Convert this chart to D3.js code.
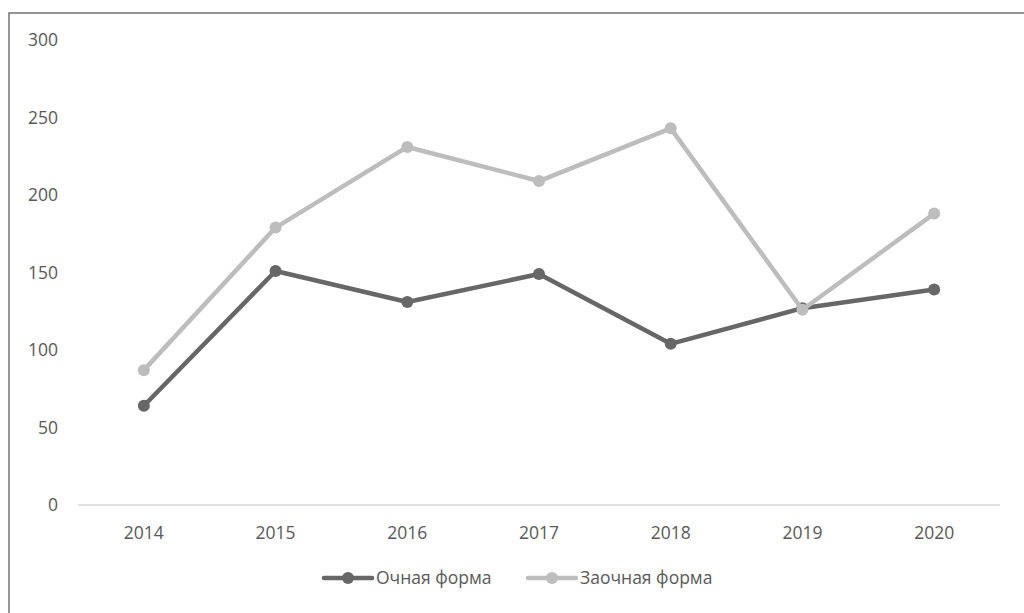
<!DOCTYPE html>
<html><head><meta charset="utf-8">
<script src="https://d3js.org/d3.v7.min.js"></script>
<style>html,body{margin:0;padding:0;background:#fff;}svg{display:block;}</style>
</head><body><svg id="c" width="1024" height="613"></svg>
<script>
const years = ["2014","2015","2016","2017","2018","2019","2020"];
const ochnaya = [64, 151, 131, 149, 104, 127, 139];
const zaochnaya = [87, 179, 231, 209, 243, 126, 188];
const yTicks = [0, 50, 100, 150, 200, 250, 300];
const seriesNames = ["Очная форма", "Заочная форма"];
const seriesColors = ["#676767", "#bdbdbd"];

(function () {
const svg = d3.select("#c");
const font = "'Open Sans', 'Liberation Sans', sans-serif";
const fs = 17.5;
svg.append("rect").attr("x", 9).attr("y", 13).attr("width", 1030).attr("height", 620)
  .attr("fill", "#fff").attr("stroke", "#7a7a7a").attr("stroke-width", 1.6);

const pLeft = 78, pRight = 1000, pTop = 40, pBottom = 505;
const x = d3.scaleBand().domain(years).range([pLeft, pRight]);
const y = d3.scaleLinear().domain([0, 300]).range([pBottom, pTop]);

svg.append("g").selectAll("text").data(yTicks).join("text")
  .attr("x", 58).attr("y", d => y(d)).attr("dy", "0.35em")
  .attr("text-anchor", "end").attr("font-family", font).attr("font-size", fs)
  .attr("fill", "#595959").text(d => d);

svg.append("line").attr("x1", pLeft).attr("x2", pRight).attr("y1", y(0)).attr("y2", y(0))
  .attr("stroke", "#d9d9d9").attr("stroke-width", 1.3);

svg.append("g").selectAll("text").data(years).join("text")
  .attr("x", d => x(d) + x.bandwidth() / 2).attr("y", 533).attr("dy", "0.35em")
  .attr("text-anchor", "middle").attr("font-family", font).attr("font-size", fs)
  .attr("fill", "#595959").text(d => d);

const data = [ochnaya, zaochnaya];
const line = d3.line().x((d, i) => x(years[i]) + x.bandwidth() / 2).y(d => y(d));
[0, 1].forEach(k => {
  const g = svg.append("g");
  g.append("path").attr("d", line(data[k])).attr("fill", "none")
    .attr("stroke", seriesColors[k]).attr("stroke-width", 4.5).attr("stroke-linejoin", "round");
  g.selectAll("circle").data(data[k]).join("circle")
    .attr("cx", (d, i) => x(years[i]) + x.bandwidth() / 2).attr("cy", d => y(d))
    .attr("r", 6).attr("fill", seriesColors[k]);
});

const legX = [324, 528];
seriesNames.forEach((n, k) => {
  const g = svg.append("g");
  g.append("line").attr("x1", legX[k]).attr("x2", legX[k] + 48).attr("y1", 578).attr("y2", 578)
    .attr("stroke", seriesColors[k]).attr("stroke-width", 4.5).attr("stroke-linecap", "round");
  g.append("circle").attr("cx", legX[k] + 24).attr("cy", 578).attr("r", 6).attr("fill", seriesColors[k]);
  g.append("text").attr("x", legX[k] + 52).attr("y", 578).attr("dy", "0.35em")
    .attr("font-family", font).attr("font-size", fs).attr("fill", "#595959").text(n);
});
})();
</script></body></html>
